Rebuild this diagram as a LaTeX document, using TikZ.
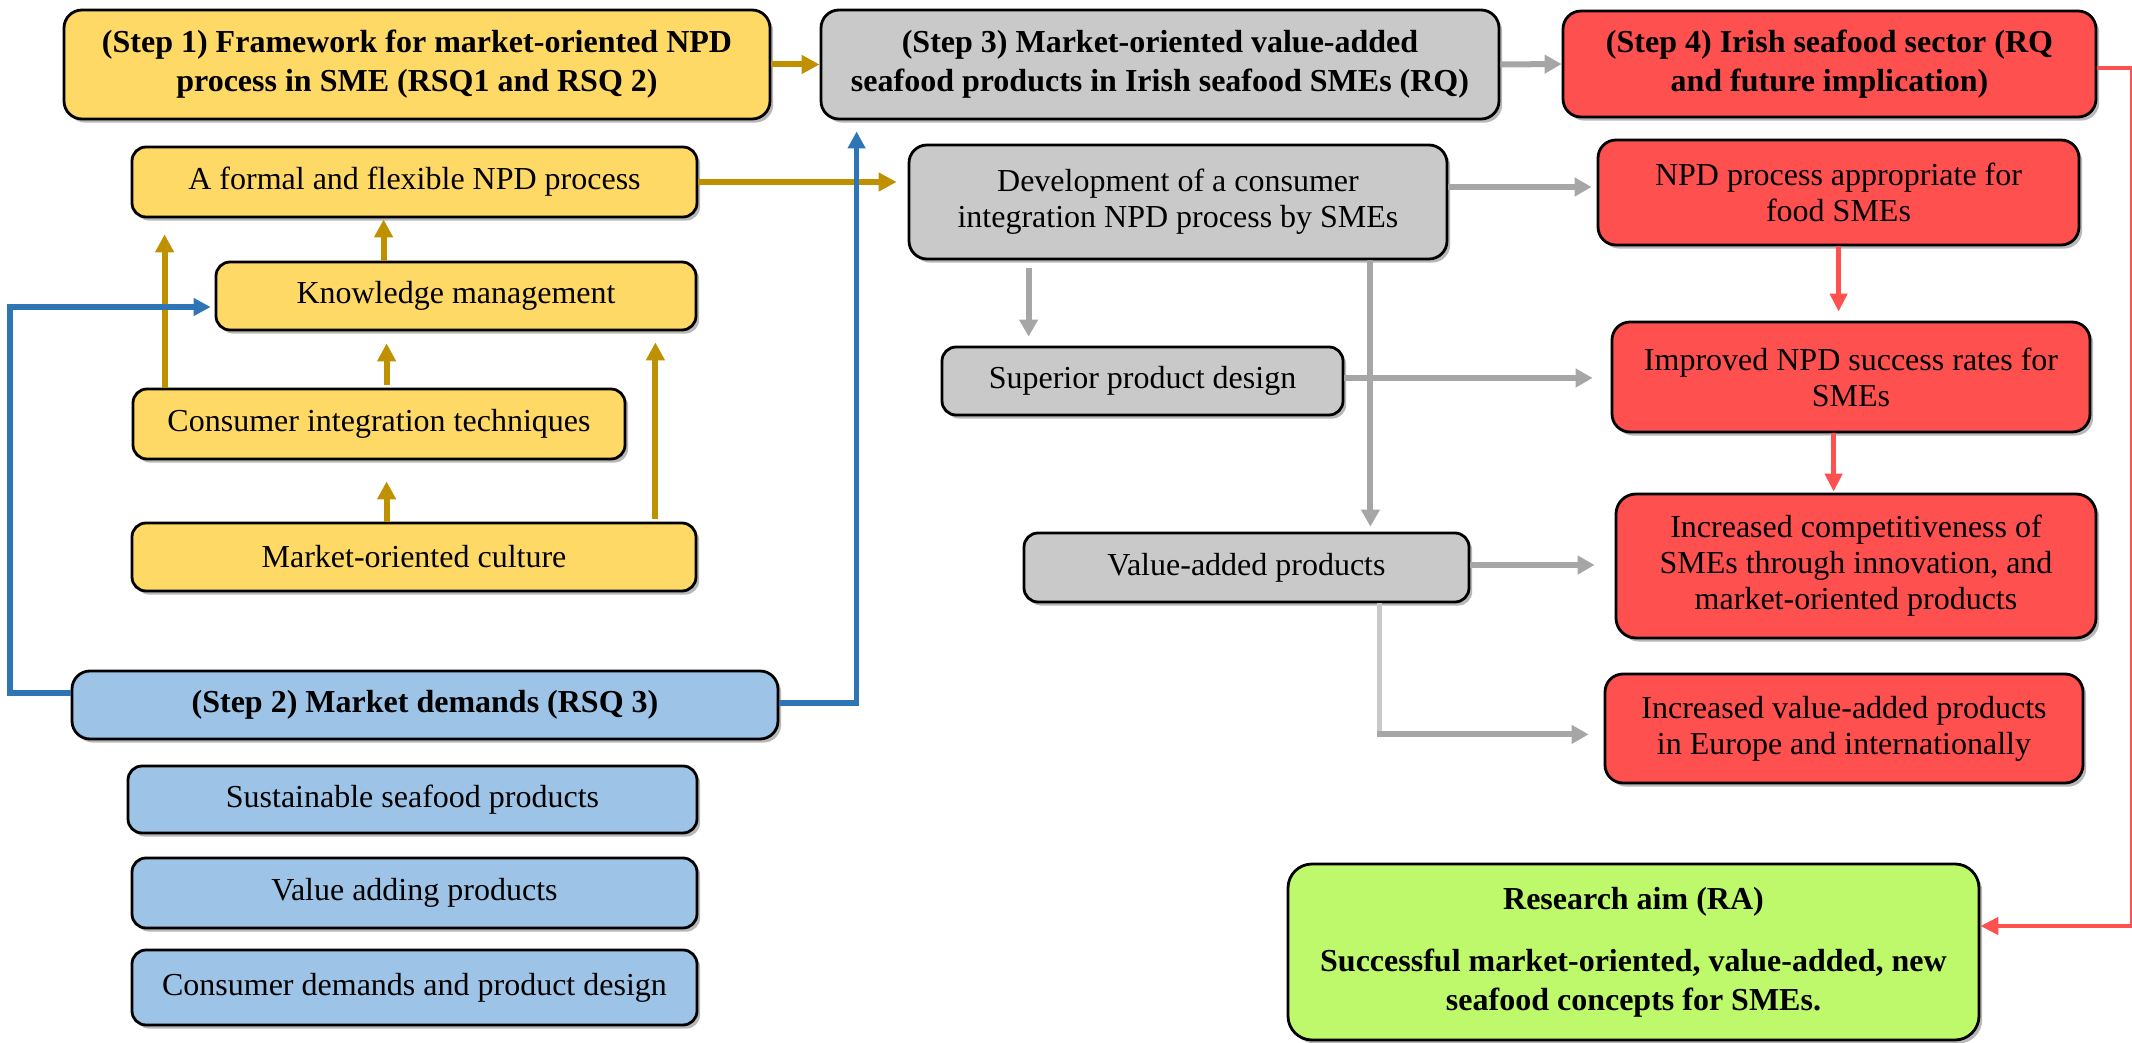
\documentclass[tikz,border=0pt]{standalone}
\usepackage{fontspec}
\setmainfont{Liberation Serif}
\usetikzlibrary{arrows.meta,shadows,calc}
\definecolor{yfill}{HTML}{FFD966}
\definecolor{goldc}{HTML}{BF9000}
\definecolor{bfill}{HTML}{9DC3E6}
\definecolor{bluec}{HTML}{2E75B6}
\definecolor{gfill}{HTML}{C9C9C9}
\definecolor{grayc}{HTML}{A6A6A6}
\definecolor{graylt}{HTML}{C8C8C8}
\definecolor{rfill}{HTML}{FF5050}
\definecolor{redc}{HTML}{FF5050}
\definecolor{grfill}{HTML}{BDF96B}
\tikzset{
  box/.style={draw=black, line width=1.4pt, rounded corners=7pt, align=center, inner sep=0pt,
    font=\fontsize{16}{18}\selectfont,
    drop shadow={shadow xshift=1.6pt, shadow yshift=-1.8pt, opacity=0.28, fill=black}},
  bigbox/.style={box, rounded corners=9pt, font=\fontsize{16}{19.5}\selectfont\bfseries},
  ybox/.style={box, fill=yfill},
  bbox/.style={box, fill=bfill},
  gbox/.style={box, fill=gfill},
  rbox/.style={box, fill=rfill},
  goldarr/.style={draw=goldc, line width=3pt, -{Triangle[length=9pt,width=9pt]}},
  bluearr/.style={draw=bluec, line width=2.8pt, -{Triangle[length=8.5pt,width=8.5pt]}},
  grayarr/.style={draw=grayc, line width=3pt, -{Triangle[length=8.5pt,width=9pt]}},
  redarr/.style={draw=redc, line width=2.2pt, -{Triangle[length=9pt,width=8.5pt]}},
}
\begin{document}
\begin{tikzpicture}[x=0.5pt,y=-0.5pt]
\useasboundingbox (0,0) rectangle (2132,1043);
% ---- left column
\node[bigbox, fill=yfill, minimum width=353pt, minimum height=54.5pt] (s1) at (417,64.5)
  {(Step 1) Framework for market-oriented NPD\\process in SME (RSQ1 and RSQ 2)};
\node[ybox, minimum width=282.5pt, minimum height=35pt] (formal) at (414.5,182) {A formal and flexible NPD process};
\node[ybox, minimum width=240pt, minimum height=34pt] (km) at (456,296) {Knowledge management};
\node[ybox, minimum width=246pt, minimum height=35pt] (cit) at (379,424) {Consumer integration techniques};
\node[ybox, minimum width=282pt, minimum height=34pt] (moc) at (414,557) {Market-oriented culture};
\node[bigbox, fill=bfill, minimum width=353pt, minimum height=34pt] (s2) at (425,705) {(Step 2) Market demands (RSQ 3)};
\node[bbox, minimum width=284.5pt, minimum height=33.5pt] (ssp) at (412.5,799.5) {Sustainable seafood products};
\node[bbox, minimum width=282.5pt, minimum height=35pt] (vap) at (414.5,893) {Value adding products};
\node[bbox, minimum width=282.5pt, minimum height=37.5pt] (cdpd) at (414.5,987.5) {Consumer demands and product design};
% ---- middle column
\node[bigbox, fill=gfill, minimum width=339pt, minimum height=54.5pt] (s3) at (1160,64.5)
  {(Step 3) Market-oriented value-added\\seafood products in Irish seafood SMEs (RQ)};
\node[gbox, rounded corners=9pt, minimum width=269pt, minimum height=57pt] (dev) at (1178,202)
  {Development of a consumer\\integration NPD process by SMEs};
\node[gbox, minimum width=200.5pt, minimum height=34pt] (spd) at (1142.5,381) {Superior product design};
\node[gbox, minimum width=222.5pt, minimum height=34.5pt] (vadp) at (1246.5,567.5) {Value-added products};
% ---- right column
\node[bigbox, fill=rfill, minimum width=266.5pt, minimum height=53pt] (s4) at (1829.5,64)
  {(Step 4) Irish seafood sector (RQ\\and future implication)};
\node[rbox, rounded corners=9pt, minimum width=240.5pt, minimum height=52.5pt] (npda) at (1838.5,192.5)
  {NPD process appropriate for\\food SMEs};
\node[rbox, rounded corners=9pt, minimum width=239pt, minimum height=55pt] (inpd) at (1851,377)
  {Improved NPD success rates for\\SMEs};
\node[rbox, rounded corners=10pt, minimum width=240pt, minimum height=72pt] (icomp) at (1856,566)
  {Increased competitiveness of\\SMEs through innovation, and\\market-oriented products};
\node[rbox, rounded corners=9pt, minimum width=239pt, minimum height=54.5pt] (ivap) at (1844,728.5)
  {Increased value-added products\\in Europe and internationally};
\node[bigbox, fill=grfill, rounded corners=12pt, minimum width=345.5pt, minimum height=88pt] (ra) at (1633.5,952)
  {Research aim (RA)\\[11.5pt]Successful market-oriented, value-added, new\\seafood concepts for SMEs.};
% ---- gold connectors
\draw[goldarr] (s1.east) -- (s3.west);
\draw[goldarr] (formal.east) -- ($(dev.west |- formal.east)+(-11,0)$);
\draw[goldarr] ($(cit.north west)+(33,0)$) -- ($(formal.south west)+(34,16)$);
\draw[goldarr] ($(km.north west)+(169,0)$) -- ($(formal.south west)+(253,1)$);
\draw[goldarr] ($(cit.north west)+(255,-3)$) -- ($(km.south west)+(172,12)$);
\draw[goldarr] ($(moc.north west)+(256,0)$) -- ($(cit.south west)+(255,21)$);
\draw[goldarr] ($(moc.north east)+(-42,-3)$) -- ($(km.south east)+(-42,11)$);
% ---- blue connectors
\draw[bluearr] ($(s2.east)+(0,-2)$) -| ($(s3.south west)+(37,11)$);
\draw[bluearr] ($(s2.west)+(0,-12)$) -- ++(-60.5,0) |- ($(km.west)+(-4,11)$);
% ---- gray connectors
\draw[grayarr] (s3.east) -- (s4.west);
\draw[grayarr] ($(dev.east)+(0,-15)$) -- ($(npda.west |- dev.east)+(-5,-15)$);
\draw[grayarr] ($(dev.south west)+(121,8)$) -- ($(spd.north west)+(88,-9)$);
\draw[grayarr] ($(dev.south east)+(-78,0)$) -- ($(vadp.north east)+(-100,-5)$);
\draw[grayarr] ($(spd.east)+(0,-3)$) -- ($(inpd.west)+(-18,1)$);
\draw[grayarr] ($(vadp.east)+(0,-2.5)$) -- ($(icomp.west)+(-20,-1)$);
\coordinate (c16) at ($(vadp.south east)+(-91,131)$);
\draw[draw=graylt, line width=2.6pt] ($(vadp.south east)+(-91,0)$) -- (c16);
\draw[grayarr] ($(c16)+(-2.5,0)$) -- ($(ivap.west |- c16)+(-15,0)$);
% ---- red connectors
\draw[redarr] ($(npda.south west)+(242,0)$) -- ($(inpd.north west)+(228,-9)$);
\draw[redarr] ($(inpd.south west)+(223,0)$) -- ($(icomp.north west)+(219,-1)$);
\coordinate (rc) at (2132,68);
\draw[redarr] ($(s4.east)+(0,4)$) -- (rc) |- ($(ra.east)+(0,-26)$);
\end{tikzpicture}
\end{document}
